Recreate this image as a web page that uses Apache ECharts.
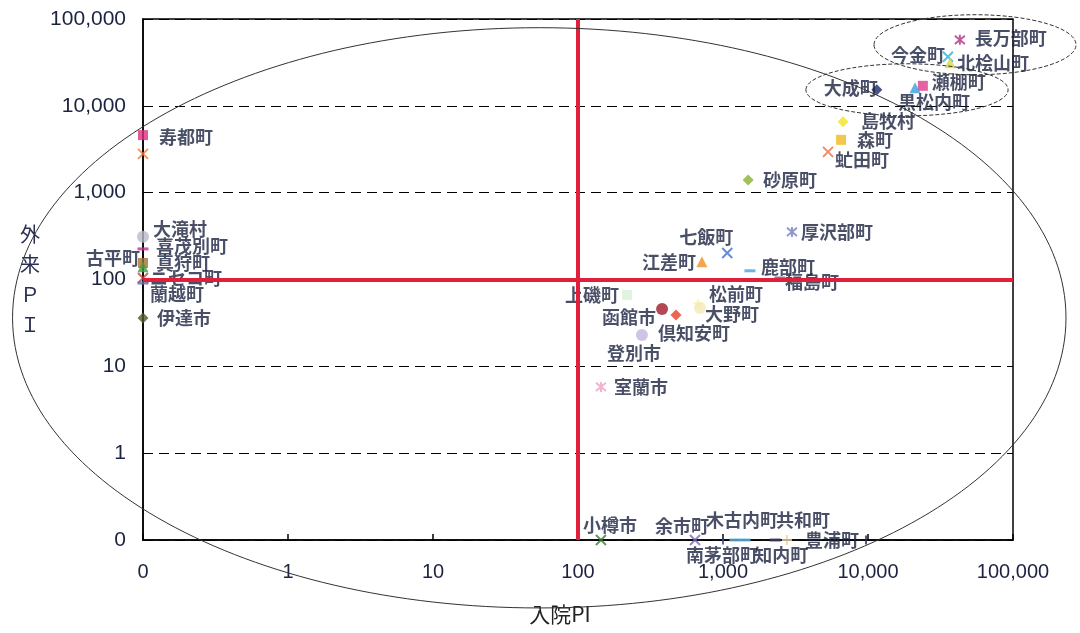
<!DOCTYPE html>
<html>
<head>
<meta charset="utf-8">
<script src="https://cdn.jsdelivr.net/npm/echarts@6/dist/echarts.min.js"></script>
<style>
  html, body { margin: 0; padding: 0; background: #fff; }
  #chart { width: 1080px; height: 633px; }
</style>
</head>
<body>
<div id="chart"></div>
<script>
// 市町村別 入院PI・外来PI（0 は対数軸の下端に置く）
const names = [
  '寿都町', '', '大滝村', '喜茂別町', '古平町', '真狩町', 'ニセコ町', '蘭越町', '伊達市',
  '長万部町', '今金町', '北桧山町', '瀬棚町', '黒松内町', '大成町',
  '島牧村', '森町', '虻田町', '砂原町',
  '厚沢部町', '七飯町', '江差町', '鹿部町', '福島町',
  '上磯町', '松前町', '大野町', '函館市', '倶知安町', '登別市', '室蘭市',
  '小樽市', '余市町', '南茅部町', '木古内町', '', '知内町', '共和町', '豊浦町'
];
const inpatientPI = [
  0, 0, 0, 0, 0, 0, 0, 0, 0,
  43000, 35600, 36800, 23900, 21100, 11500,
  6730, 6520, 5300, 1490,
  2990, 1070, 716, 1535, 2470,
  218, 673, 694, 380, 474, 276, 144,
  144, 641, 1000, 1210, 1420, 2290, 2760, 9690
];
const outpatientPI = [
  4600, 2800, 310, 225, 155, 140, 104, 91, 36,
  57500, 36700, 31300, 17000, 16100, 15300,
  6540, 4060, 2950, 1400,
  353, 202, 160, 126, 104,
  66.5, 52.4, 47, 45.8, 39.1, 23, 5.8,
  0, 0, 0, 0, 0, 0, 0, 0
];
const xTickValues = [0, 1, 10, 100, 1000, 10000, 100000];
const yTickValues = [0, 1, 10, 100, 1000, 10000, 100000];
const thresholdPI = 100;

// 0 を描く位置（対数軸の一番下の目盛）
const AXIS_FLOOR = 0.1;
const toAxis = v => (v <= 0 ? AXIS_FLOOR : v);

const SHAPES = {
  cross: 'path://M0,0L10,10M10,0L0,10',
  asterisk: 'path://M0,0L10,10M10,0L0,10M5,-1L5,11',
  plus: 'path://M5,0L5,10M0,5L10,5',
  star: 'path://M5,0L6.2,3.6L10,3.6L6.9,5.9L8.1,9.5L5,7.3L1.9,9.5L3.1,5.9L0,3.6L3.8,3.6Z'
};
const STROKED = ['cross', 'asterisk', 'plus'];

// マーカー形状・色（順序は names と同じ）
const markerStyle = [
  ['rect', '#e0307e'], ['cross', '#f07a3a'], ['circle', '#b9bac8'], ['dash', '#c0309a'],
  ['rect', '#a8702c'], ['triangle', '#3f9d3f'], ['cross', '#c84040'], ['dash', '#6a6aa8'],
  ['diamond', '#4d5a2a'],
  ['asterisk', '#b03080'], ['cross', '#30b0d8'], ['triangle', '#d8d848'], ['rect', '#e03c8c'],
  ['triangle', '#3aa0e0'], ['diamond', '#1c2a6a'],
  ['diamond', '#f4e420'], ['rect', '#f0b820'], ['cross', '#f06a40'], ['diamond', '#8ab030'],
  ['asterisk', '#7080c0'], ['cross', '#4070c8'], ['triangle', '#f09020'], ['dash', '#40a8d8'],
  ['dash', '#5060a0'],
  ['rect', '#d8f0d8'], ['star', '#f6f0a0'], ['circle', '#f2eab8'], ['circle', '#a01a2a'],
  ['diamond', '#e84020'], ['circle', '#c4b4e2'], ['asterisk', '#f0a0c4'],
  ['cross', '#3a7a3a'], ['cross', '#7a6ab4'], ['vdash', '#3a4a8a'], ['dash', '#60b0e0'],
  ['dash', '#60b8e8'], ['dash', '#404060'], ['plus', '#ecd4a0'], ['vdash', '#303050']
];

// ラベル中心のマーカー中心からのずれ [dx, dy]
const labelOffset = [
  [43, 2], [0, 0], [37, -8], [49, -3], [-30, -5], [40, -4], [43, 0], [34, 11], [41, 0],
  [51, -2], [-30, -2], [43, 0], [36, -4], [19, 14], [-26, -2],
  [45, -1], [34, 0], [34, 8], [42, 0],
  [45, 0], [-21, -16], [-33, 0], [38, -4], [32, 4],
  [-35, 0], [38, -10], [32, 6], [-33, 8], [18, 18], [-8, 18], [40, 0],
  [9, -15], [-13, -14], [-1, 15], [7, -20], [0, 0], [6, 15], [16, -20], [-34, 0]
];

function symbolFor(shape) {
  if (shape === 'dash') return { symbol: 'rect', symbolSize: [11, 3] };
  if (shape === 'vdash') return { symbol: 'rect', symbolSize: [2, 9] };
  if (SHAPES[shape]) return { symbol: SHAPES[shape], symbolSize: shape === 'star' ? 12 : 10 };
  if (shape === 'circle') return { symbol: 'circle', symbolSize: 12 };
  if (shape === 'diamond') return { symbol: 'diamond', symbolSize: 11 };
  if (shape === 'triangle') return { symbol: 'triangle', symbolSize: 11 };
  return { symbol: shape, symbolSize: 10 };
}

const points = names.map((name, i) => {
  const [shape, color] = markerStyle[i];
  const stroked = STROKED.includes(shape);
  return Object.assign({
    name: name,
    value: [toAxis(inpatientPI[i]), toAxis(outpatientPI[i])],
    itemStyle: stroked
      ? { color: color, borderColor: color, borderWidth: 2 }
      : { color: color },
    label: { offset: labelOffset[i] }
  }, symbolFor(shape));
});

const TEXT = '#1c2340';
const tickLabel = v => {
  const shown = v < 0.5 ? 0 : Math.round(v);
  return shown.toLocaleString('en-US');
};

const chart = echarts.init(document.getElementById('chart'), null, { renderer: 'canvas' });

chart.setOption({
  animation: false,
  backgroundColor: '#ffffff',
  grid: {
    left: 143, top: 19, right: 67, bottom: 93,
    show: true, borderColor: '#000', borderWidth: 1.5, backgroundColor: 'transparent'
  },
  xAxis: {
    type: 'log', logBase: 10,
    min: toAxis(xTickValues[0]), max: xTickValues[xTickValues.length - 1],
    splitNumber: 6,
    name: '入院PI',
    nameLocation: 'middle',
    nameGap: 64,
    nameTextStyle: { color: '#222', fontSize: 21, fontFamily: 'Noto Sans CJK JP', padding: [0, 36, 0, 0] },
    axisLine: { lineStyle: { color: '#000', width: 1.5 } },
    axisTick: { show: true, inside: true, length: 6, lineStyle: { color: '#000', width: 1.5 } },
    splitLine: { show: false },
    axisLabel: { formatter: tickLabel, color: TEXT, fontSize: 20, fontFamily: 'Liberation Sans', margin: 22 }
  },
  yAxis: {
    type: 'log', logBase: 10,
    min: toAxis(yTickValues[0]), max: yTickValues[yTickValues.length - 1],
    splitNumber: 6,
    name: '外\n来\nＰ\nＩ',
    nameLocation: 'middle',
    nameRotate: 0,
    nameGap: 113,
    nameTextStyle: { color: '#2a3050', fontSize: 20, lineHeight: 30, fontFamily: 'Noto Sans CJK JP', align: 'center' },
    axisLine: { lineStyle: { color: '#000', width: 1.5 } },
    axisTick: { show: false },
    splitLine: { show: true, lineStyle: { color: '#000', width: 1.2, type: [10, 6] } },
    axisLabel: { formatter: tickLabel, color: TEXT, fontSize: 21, fontFamily: 'Liberation Sans', margin: 17 }
  },
  series: [{
    type: 'scatter',
    data: points,
    label: {
      show: true,
      position: 'inside',
      formatter: '{b}',
      color: TEXT,
      fontSize: 18,
      fontWeight: 'bold',
      fontFamily: 'Noto Sans CJK JP'
    },
    emphasis: { disabled: true },
    markLine: {
      silent: true,
      symbol: ['none', 'none'],
      label: { show: false },
      lineStyle: { color: '#e0203a', width: 4, type: 'solid' },
      data: [{ xAxis: thresholdPI }, { yAxis: thresholdPI }]
    }
  }]
});

// まとまりを囲む楕円（データ座標の外接範囲 [xMin, xMax, yMin, yMax]）
const groupOutlines = [
  { box: [0.0126, 232000, 0.0165, 79400], dash: null },
  { box: [3730, 92500, 7670, 30500], dash: [4, 2] },
  { box: [11000, 272000, 22800, 112000], dash: [4, 2] }
];

const ellipses = groupOutlines.map(g => {
  const [x0, x1, y0, y1] = g.box;
  const p0 = chart.convertToPixel({ gridIndex: 0 }, [x0, y0]);
  const p1 = chart.convertToPixel({ gridIndex: 0 }, [x1, y1]);
  return {
    type: 'ellipse',
    silent: true,
    z: 50,
    shape: {
      cx: (p0[0] + p1[0]) / 2,
      cy: (p0[1] + p1[1]) / 2,
      rx: Math.abs(p1[0] - p0[0]) / 2,
      ry: Math.abs(p1[1] - p0[1]) / 2
    },
    style: { fill: null, stroke: '#333', lineWidth: 1, lineDash: g.dash }
  };
});

chart.setOption({ graphic: ellipses });
</script>
</body>
</html>
